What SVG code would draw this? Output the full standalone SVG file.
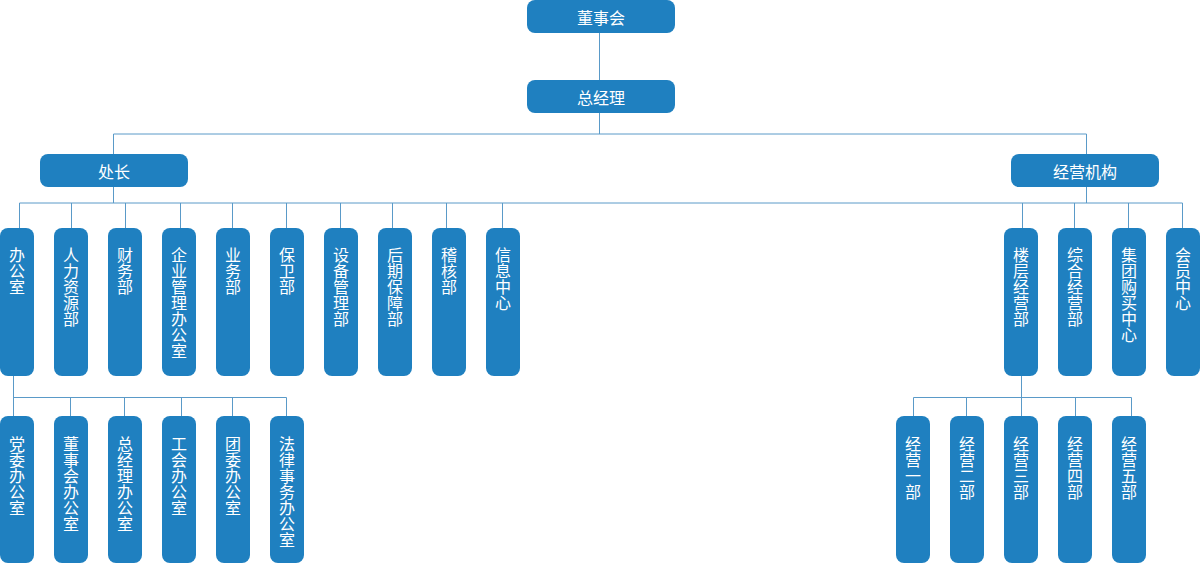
<svg xmlns="http://www.w3.org/2000/svg" width="1200" height="564" viewBox="0 0 1200 564">
<style>
.b{fill:#1f80c0}
.t{fill:#fff;font-family:"Noto Sans CJK SC","Noto Sans",sans-serif;font-size:16px;text-anchor:middle;dominant-baseline:central}
.v{fill:#fff;font-family:"Noto Sans CJK SC","Noto Sans",sans-serif;font-size:16px;writing-mode:vertical-rl;text-anchor:start}
.c{stroke:#5a9ac8;stroke-width:1;fill:none}
</style>
<rect width="1200" height="564" fill="#fff"/>
<g id="connectors" class="c">
<path d="M599.5 33V80M599.5 113V134M113.5 134H1086.5M113.5 134V154M1086.5 134V154"/>
<path d="M19.5 203H1182.5M19.5 203V228M71.5 203V228M125.5 203V228M180.5 203V228M232.5 203V228M286.5 203V228M340.5 203V228M392.5 203V228M446.5 203V228M502.5 203V228"/>
<path d="M1086.5 187V203M113.5 187V203M1022.5 203V228M1074.5 203V228M1128.5 203V228M1182.5 203V228"/>
<path d="M13.5 376V416M13.5 397.5H286.5M70.5 397.5V416M124.5 397.5V416M181.5 397.5V416M232.5 397.5V416M286.5 397.5V416"/>
<path d="M1021.5 376V416M913.5 397.5H1131.5M913.5 397.5V416M966.5 397.5V416M1075.5 397.5V416M1131.5 397.5V416"/>
</g>
<g id="n-dsh"><rect class="b" x="527" y="0" width="148" height="33" rx="8"/><text class="t" x="601" y="17">董事会</text></g>
<g id="n-zjl"><rect class="b" x="527" y="80" width="148" height="33" rx="8"/><text class="t" x="601" y="97">总经理</text></g>
<g id="n-cz"><rect class="b" x="40" y="154" width="148" height="33" rx="8"/><text class="t" x="114" y="171">处长</text></g>
<g id="n-jyjg"><rect class="b" x="1011" y="154" width="148" height="33" rx="8"/><text class="t" x="1085" y="171">经营机构</text></g>

<g id="n-bgs"><rect class="b" x="0" y="228" width="34" height="148" rx="8"/><text class="v" x="17" y="247">办公室</text></g>
<g id="n-rlzyb"><rect class="b" x="54" y="228" width="34" height="148" rx="8"/><text class="v" x="71" y="247">人力资源部</text></g>
<g id="n-cwb"><rect class="b" x="108" y="228" width="34" height="148" rx="8"/><text class="v" x="125" y="247">财务部</text></g>
<g id="n-qygl"><rect class="b" x="162" y="228" width="34" height="148" rx="8"/><text class="v" x="179" y="247">企业管理办公室</text></g>
<g id="n-ywb"><rect class="b" x="216" y="228" width="34" height="148" rx="8"/><text class="v" x="233" y="247">业务部</text></g>
<g id="n-bwb"><rect class="b" x="270" y="228" width="34" height="148" rx="8"/><text class="v" x="287" y="247">保卫部</text></g>
<g id="n-sbgl"><rect class="b" x="324" y="228" width="34" height="148" rx="8"/><text class="v" x="341" y="247">设备管理部</text></g>
<g id="n-hqbz"><rect class="b" x="378" y="228" width="34" height="148" rx="8"/><text class="v" x="395" y="247">后期保障部</text></g>
<g id="n-jhb"><rect class="b" x="432" y="228" width="34" height="148" rx="8"/><text class="v" x="449" y="247">稽核部</text></g>
<g id="n-xxzx"><rect class="b" x="486" y="228" width="34" height="148" rx="8"/><text class="v" x="503" y="247">信息中心</text></g>

<g id="n-lcjy"><rect class="b" x="1004" y="228" width="34" height="148" rx="8"/><text class="v" x="1021" y="247">楼层经营部</text></g>
<g id="n-zhjy"><rect class="b" x="1058" y="228" width="34" height="148" rx="8"/><text class="v" x="1075" y="247">综合经营部</text></g>
<g id="n-jtgm"><rect class="b" x="1112" y="228" width="34" height="148" rx="8"/><text class="v" x="1129" y="247">集团购买中心</text></g>
<g id="n-hyzx"><rect class="b" x="1166" y="228" width="34" height="148" rx="8"/><text class="v" x="1183" y="247">会员中心</text></g>

<g id="n-dw"><rect class="b" x="0" y="416" width="34" height="147" rx="8"/><text class="v" x="17" y="436">党委办公室</text></g>
<g id="n-dshbgs"><rect class="b" x="54" y="416" width="34" height="147" rx="8"/><text class="v" x="71" y="436">董事会办公室</text></g>
<g id="n-zjlbgs"><rect class="b" x="108" y="416" width="34" height="147" rx="8"/><text class="v" x="125" y="436">总经理办公室</text></g>
<g id="n-gh"><rect class="b" x="162" y="416" width="34" height="147" rx="8"/><text class="v" x="179" y="436">工会办公室</text></g>
<g id="n-tw"><rect class="b" x="216" y="416" width="34" height="147" rx="8"/><text class="v" x="233" y="436">团委办公室</text></g>
<g id="n-flsw"><rect class="b" x="270" y="416" width="34" height="147" rx="8"/><text class="v" x="287" y="436">法律事务办公室</text></g>

<g id="n-jy1"><rect class="b" x="896" y="416" width="34" height="147" rx="8"/><text class="v" x="913" y="436">经营一部</text></g>
<g id="n-jy2"><rect class="b" x="950" y="416" width="34" height="147" rx="8"/><text class="v" x="967" y="436">经营二部</text></g>
<g id="n-jy3"><rect class="b" x="1004" y="416" width="34" height="147" rx="8"/><text class="v" x="1021" y="436">经营三部</text></g>
<g id="n-jy4"><rect class="b" x="1058" y="416" width="34" height="147" rx="8"/><text class="v" x="1075" y="436">经营四部</text></g>
<g id="n-jy5"><rect class="b" x="1112" y="416" width="34" height="147" rx="8"/><text class="v" x="1129" y="436">经营五部</text></g>
</svg>
